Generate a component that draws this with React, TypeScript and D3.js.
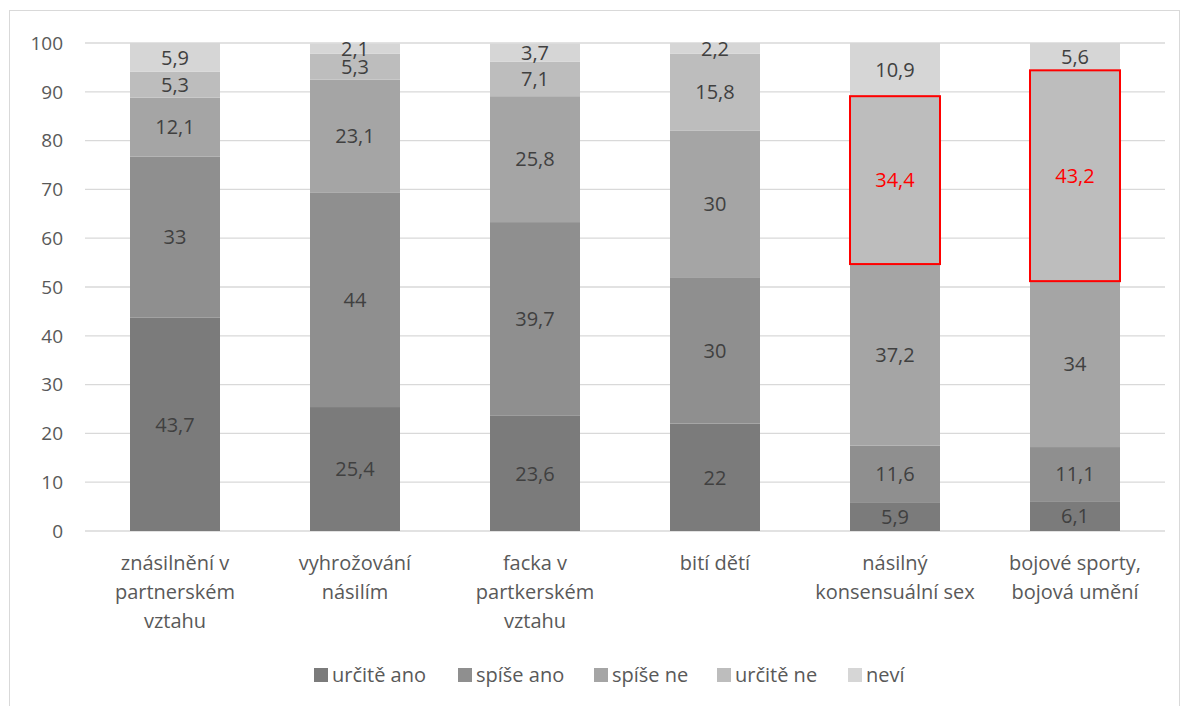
import React, { useEffect, useRef } from 'react';
import * as d3 from 'd3';

const categories = [
  ['znásilnění v', 'partnerském', 'vztahu'],
  ['vyhrožování', 'násilím'],
  ['facka v', 'partkerském', 'vztahu'],
  ['bití dětí'],
  ['násilný', 'konsensuální sex'],
  ['bojové sporty,', 'bojová umění'],
];

const seriesNames = ['určitě ano', 'spíše ano', 'spíše ne', 'určitě ne', 'neví'];
const seriesColors = ['#7b7b7b', '#8f8f8f', '#a5a5a5', '#bdbdbd', '#d6d6d6'];

const urciteAno = [43.7, 25.4, 23.6, 22, 5.9, 6.1];
const spiseAno = [33, 44, 39.7, 30, 11.6, 11.1];
const spiseNe = [12.1, 23.1, 25.8, 30, 37.2, 34];
const urciteNe = [5.3, 5.3, 7.1, 15.8, 34.4, 43.2];
const nevi = [5.9, 2.1, 3.7, 2.2, 10.9, 5.6];

// segments outlined in red: [category index, series index]
const highlighted = [[4, 3], [5, 3]];

const yTicks = [0, 10, 20, 30, 40, 50, 60, 70, 80, 90, 100];

const W = 1189;
const H = 706;

export default function App() {
  const svgRef = useRef<SVGSVGElement>(null);

  useEffect(() => {
    document.body.style.margin = '0';
    if (!svgRef.current) return;

    const svg = d3.select(svgRef.current);
    svg.selectAll('*').remove();

    const font = '"Open Sans", sans-serif';
    const margin = { top: 43, right: 24, bottom: 175, left: 85 };
    const plotW = W - margin.left - margin.right;
    const plotH = H - margin.top - margin.bottom;

    // chart border
    svg.append('rect')
      .attr('x', 9.5).attr('y', 10.5)
      .attr('width', 1170).attr('height', 700)
      .attr('fill', 'white').attr('stroke', '#d9d9d9');

    const g = svg.append('g').attr('transform', `translate(${margin.left},${margin.top})`);

    const x = d3.scaleBand<number>()
      .domain(categories.map((_, i) => i))
      .range([0, plotW])
      .paddingInner(0.5)
      .paddingOuter(0.25);

    const y = d3.scaleLinear().domain([0, 100]).range([plotH, 0]);

    // gridlines
    g.selectAll('line.grid')
      .data(yTicks)
      .enter()
      .append('line')
      .attr('x1', 0).attr('x2', plotW)
      .attr('y1', d => y(d)).attr('y2', d => y(d))
      .attr('stroke', '#d9d9d9')
      .attr('stroke-width', 1.3);

    // y tick labels
    g.selectAll('text.ytick')
      .data(yTicks)
      .enter()
      .append('text')
      .attr('x', -22)
      .attr('y', d => y(d))
      .attr('dy', '0.36em')
      .attr('text-anchor', 'end')
      .attr('font-family', font)
      .attr('font-size', 19)
      .attr('fill', '#595959')
      .text(d => d);

    const values = [urciteAno, spiseAno, spiseNe, urciteNe, nevi];
    const rows = categories.map((_, i) => {
      const r: any = { i };
      seriesNames.forEach((s, k) => (r[s] = values[k][i]));
      return r;
    });
    const stack = d3.stack<any>().keys(seriesNames)(rows);

    const isHi = (ci: number, si: number) => highlighted.some(h => h[0] === ci && h[1] === si);

    stack.forEach((layer, si) => {
      const lg = g.append('g');
      lg.selectAll('rect')
        .data(layer)
        .enter()
        .append('rect')
        .attr('x', d => x(d.data.i)!)
        .attr('width', x.bandwidth())
        .attr('y', d => y(d[1]))
        .attr('height', d => y(d[0]) - y(d[1]))
        .attr('fill', seriesColors[si]);
    });

    // red outlines
    stack.forEach((layer, si) => {
      layer.forEach(d => {
        if (!isHi(d.data.i, si)) return;
        g.append('rect')
          .attr('x', x(d.data.i)!)
          .attr('width', x.bandwidth())
          .attr('y', y(d[1]))
          .attr('height', y(d[0]) - y(d[1]))
          .attr('fill', 'none')
          .attr('stroke', '#ff0000')
          .attr('stroke-width', 2);
      });
    });

    // data labels
    stack.forEach((layer, si) => {
      layer.forEach(d => {
        const v = values[si][d.data.i];
        g.append('text')
          .attr('x', x(d.data.i)! + x.bandwidth() / 2)
          .attr('y', (y(d[0]) + y(d[1])) / 2)
          .attr('dy', '0.36em')
          .attr('text-anchor', 'middle')
          .attr('font-family', font)
          .attr('font-size', 20)
          .attr('fill', isHi(d.data.i, si) ? '#ff0000' : '#404040')
          .text(String(v).replace('.', ','));
      });
    });

    // category labels
    categories.forEach((lines, i) => {
      const t = g.append('text')
        .attr('x', x(i)! + x.bandwidth() / 2)
        .attr('y', plotH + 39)
        .attr('text-anchor', 'middle')
        .attr('font-family', font)
        .attr('font-size', 20)
        .attr('fill', '#595959');
      lines.forEach((l, j) => {
        t.append('tspan')
          .attr('x', x(i)! + x.bandwidth() / 2)
          .attr('dy', j === 0 ? 0 : 29)
          .text(l);
      });
    });

    // legend
    const legendX = [314, 458, 594, 717, 848];
    const legendY = 675;
    seriesNames.forEach((s, k) => {
      svg.append('rect')
        .attr('x', legendX[k]).attr('y', legendY - 7)
        .attr('width', 14).attr('height', 14)
        .attr('fill', seriesColors[k]);
      svg.append('text')
        .attr('x', legendX[k] + 18)
        .attr('y', legendY)
        .attr('dy', '0.36em')
        .attr('font-family', font)
        .attr('font-size', 20)
        .attr('fill', '#595959')
        .text(s);
    });
  }, []);

  return <svg ref={svgRef} width={W} height={H} style={{ display: 'block' }} />;
}
